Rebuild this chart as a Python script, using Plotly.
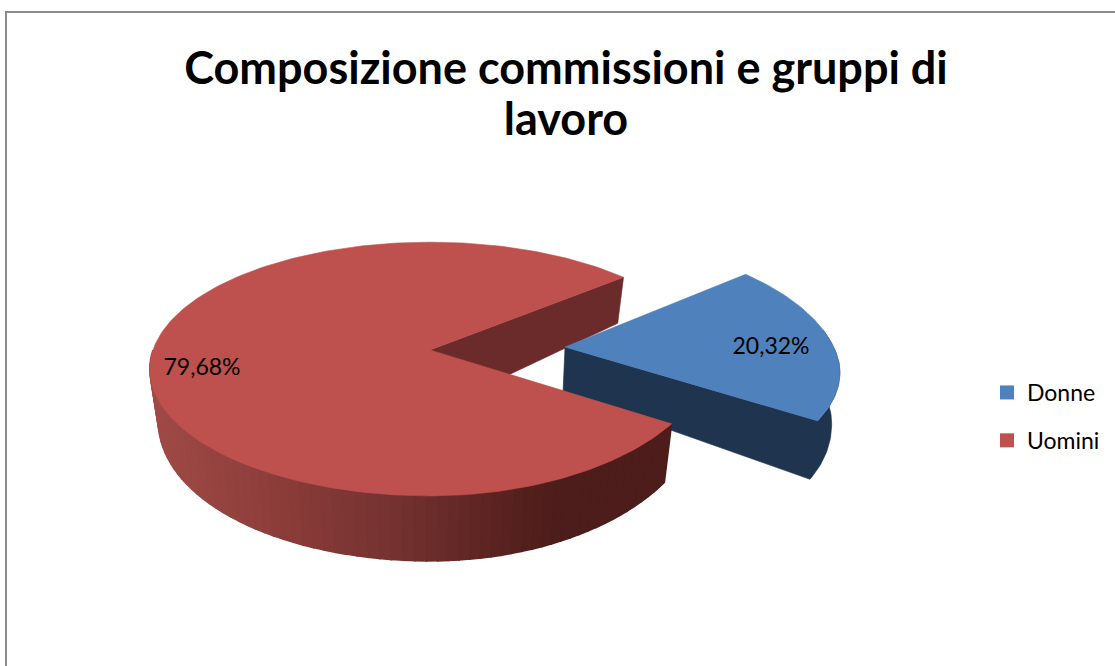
import numpy as np
import plotly.graph_objects as go

# --- data ---
categories = ["Donne", "Uomini"]
percent_values = [20.32, 79.68]
percent_labels = ["20,32%", "79,68%"]
title_lines = ["Composizione commissioni e gruppi di", "lavoro"]

# --- style / projection ---
BLUE, BLUE_WALL = "#4F81BD", "#1F344E"
RED, RED_INNER = "#BE504D", "#6B2B2A"
GRAD_X = [155, 280, 400, 500, 560]
GRAD_RGB = [(160, 74, 70), (140, 61, 58), (115, 50, 48), (90, 35, 33), (77, 29, 27)]
W, H = 1115, 666
RX, RY, K = 277.0, 124.0, 0.15
START_DEG = 40.0
CENTERS = {"Donne": (565.0, 347.0), "Uomini": (430.0, 350.0)}
APEX_DROP = {"Donne": 45.0, "Uomini": 62.0}
LABEL_POS = {"Donne": (771, 348), "Uomini": (202, 369)}


def top(t, name):
    s, c = np.sin(t), np.cos(t)
    d = 1 + K * s
    dx = RX * c / d
    dy = RY * s / d
    if name == "Donne":
        dx = dx * np.interp(s, [-0.55, -0.15, 0.07, 0.65], [1.0, 0.98, 0.965, 0.933])
    else:
        dx = np.where((s < 0) & (c > 0), dx * (1 + 0.08 * s), dx)
    cx, cy = CENTERS[name]
    return cx + dx, cy - dy


def bottom(t, name):
    x, y = top(t, name)
    cx, _ = CENTERS[name]
    drop = 46 + 19 * np.maximum(0, -np.sin(t)) ** 0.7
    return cx + (x - cx) * 0.97, y + drop


def poly(xs, ys, color, width=0.6):
    return go.Scatter(x=list(xs), y=list(ys), mode="lines", fill="toself", fillcolor=color,
                      line=dict(color=color, width=width), hoverinfo="skip", showlegend=False)


sweep = [v / sum(percent_values) * 2 * np.pi for v in percent_values]
t0 = np.radians(START_DEG)
t1 = t0 - sweep[0]          # blue runs clockwise from t0 to t1
t2 = t0 + sweep[1]          # red runs counter-clockwise from t0 to t1 + 2 pi

fig = go.Figure()

# red inner wall
cx, cy = CENTERS["Uomini"]
bx, by = top(np.array([t0]), "Uomini")
ux, uy = bottom(np.array([t0]), "Uomini")
fig.add_trace(poly([cx, bx[0], ux[0], cx, cx], [cy, by[0], uy[0], cy + APEX_DROP["Uomini"], cy], RED_INNER))

# blue slice
cx, cy = CENTERS["Donne"]
ts = np.linspace(t1, t0, 90)
wall = np.linspace(t1, np.radians(8), 40)
tx, ty = top(wall, "Donne")
ux, uy = bottom(wall, "Donne")
fig.add_trace(poly(
    [cx, *tx, *ux[::-1], cx - 2, cx],
    [cy, *ty, *uy[::-1], cy + APEX_DROP["Donne"], cy], BLUE_WALL))
tx, ty = top(ts, "Donne")
fig.add_trace(poly([cx, *tx, cx], [cy, *ty, cy], BLUE))

# red outer wall, shaded in thin slices
edge = np.linspace(np.radians(180), t2, 70)
tx, ty = top(edge, "Uomini")
ux, uy = bottom(edge, "Uomini")
for i in range(len(edge) - 1):
    xm = (tx[i] + tx[i + 1]) / 2
    rgb = [int(np.interp(xm, GRAD_X, [g[j] for g in GRAD_RGB])) for j in range(3)]
    fig.add_trace(poly(
        [tx[i], tx[i + 1], ux[i + 1], ux[i], tx[i]],
        [ty[i], ty[i + 1], uy[i + 1], uy[i], ty[i]],
        "rgb(%d,%d,%d)" % tuple(rgb), width=1.6))

# red top
cx, cy = CENTERS["Uomini"]
ts = np.linspace(t0, t2, 240)
tx, ty = top(ts, "Uomini")
fig.add_trace(poly([cx, *tx, cx], [cy, *ty, cy], RED))

# data labels
for name, label in zip(categories, percent_labels):
    lx, ly = LABEL_POS[name]
    fig.add_trace(go.Scatter(x=[lx], y=[ly], mode="text", text=[label], textposition="middle center",
                             textfont=dict(family="Lato", size=23, color="#000000"),
                             hoverinfo="skip", showlegend=False))

# legend entries
for name, color in zip(categories, [BLUE, RED]):
    fig.add_trace(go.Scatter(x=[None], y=[None], mode="markers", name=name, legendgroup=name,
                             marker=dict(symbol="square", size=14, color=color)))

title_text = "<br>".join('<span style="font-size:45px">%s</span>' % line for line in title_lines)

axis = dict(visible=False, showgrid=False, zeroline=False, fixedrange=True)
fig.update_layout(
    width=W, height=H, margin=dict(l=0, r=0, t=0, b=0),
    paper_bgcolor="#FFFFFF", plot_bgcolor="#FFFFFF",
    xaxis=dict(range=[0, W], **axis), yaxis=dict(range=[H, 0], **axis),
    title=dict(text=title_text, x=566 / W, xanchor="center", y=1 - 84 / H, yanchor="top",
               font=dict(family="Lato", size=39, color="#000000", weight="bold")),
    legend=dict(x=987 / W, xanchor="left", y=1 - 371 / H, yanchor="top", tracegroupgap=15,
                bgcolor="rgba(0,0,0,0)", font=dict(family="Lato", size=23, color="#000000")),
    shapes=[dict(type="rect", xref="x", yref="y", x0=6, y0=12, x1=W + 20, y1=H + 20,
                 line=dict(color="#8C8C8C", width=2), layer="below")],
)

fig.write_html("out.html", config={"displayModeBar": False},
               post_script="document.body.style.margin='0';document.body.style.overflow='hidden';")
